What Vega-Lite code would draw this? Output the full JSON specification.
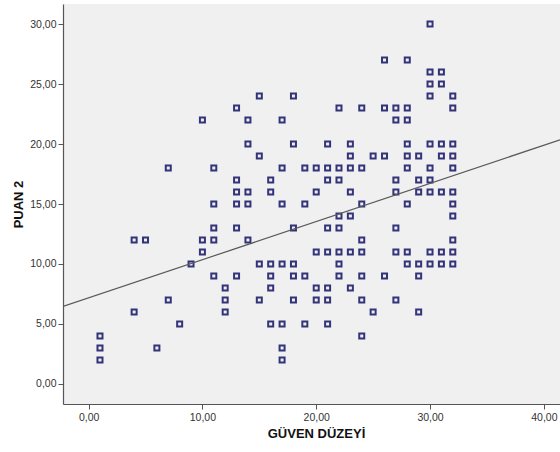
{
  "$schema": "https://vega.github.io/schema/vega-lite/v6.json",
  "width": 497,
  "height": 400,
  "autosize": {"type": "none"},
  "padding": {"left": 63, "top": 4, "right": 0, "bottom": 48},
  "background": "white",
  "config": {
    "view": {"fill": "#f0f0f0", "stroke": null},
    "font": "Liberation Sans",
    "axis": {
      "domainColor": "#555555",
      "domainWidth": 1.2,
      "tickColor": "#555555",
      "tickSize": 5,
      "tickWidth": 1,
      "grid": false,
      "labelFont": "Liberation Sans",
      "labelFontSize": 10.5,
      "labelColor": "#333333",
      "titleFont": "Liberation Sans",
      "titleFontSize": 13,
      "titleFontWeight": "bold",
      "titleColor": "#111111"
    }
  },
  "datasets": {
    "points": [
      {"guven": 30, "puan": 30},
      {"guven": 26, "puan": 27}, {"guven": 28, "puan": 27},
      {"guven": 30, "puan": 26}, {"guven": 31, "puan": 26},
      {"guven": 30, "puan": 25}, {"guven": 31, "puan": 25},
      {"guven": 15, "puan": 24}, {"guven": 18, "puan": 24}, {"guven": 30, "puan": 24}, {"guven": 32, "puan": 24},
      {"guven": 13, "puan": 23}, {"guven": 22, "puan": 23}, {"guven": 24, "puan": 23}, {"guven": 26, "puan": 23}, {"guven": 27, "puan": 23}, {"guven": 28, "puan": 23}, {"guven": 32, "puan": 23},
      {"guven": 10, "puan": 22}, {"guven": 14, "puan": 22}, {"guven": 17, "puan": 22}, {"guven": 27, "puan": 22}, {"guven": 28, "puan": 22},
      {"guven": 14, "puan": 20}, {"guven": 18, "puan": 20}, {"guven": 21, "puan": 20}, {"guven": 23, "puan": 20}, {"guven": 28, "puan": 20}, {"guven": 30, "puan": 20}, {"guven": 31, "puan": 20}, {"guven": 32, "puan": 20},
      {"guven": 15, "puan": 19}, {"guven": 23, "puan": 19}, {"guven": 25, "puan": 19}, {"guven": 26, "puan": 19}, {"guven": 28, "puan": 19}, {"guven": 29, "puan": 19}, {"guven": 31, "puan": 19}, {"guven": 32, "puan": 19},
      {"guven": 7, "puan": 18}, {"guven": 11, "puan": 18}, {"guven": 17, "puan": 18}, {"guven": 19, "puan": 18}, {"guven": 20, "puan": 18}, {"guven": 21, "puan": 18}, {"guven": 22, "puan": 18}, {"guven": 23, "puan": 18}, {"guven": 24, "puan": 18}, {"guven": 28, "puan": 18}, {"guven": 30, "puan": 18}, {"guven": 32, "puan": 18},
      {"guven": 13, "puan": 17}, {"guven": 16, "puan": 17}, {"guven": 21, "puan": 17}, {"guven": 22, "puan": 17}, {"guven": 27, "puan": 17}, {"guven": 29, "puan": 17}, {"guven": 30, "puan": 17},
      {"guven": 13, "puan": 16}, {"guven": 14, "puan": 16}, {"guven": 16, "puan": 16}, {"guven": 20, "puan": 16}, {"guven": 23, "puan": 16}, {"guven": 27, "puan": 16}, {"guven": 29, "puan": 16}, {"guven": 30, "puan": 16}, {"guven": 31, "puan": 16}, {"guven": 32, "puan": 16},
      {"guven": 11, "puan": 15}, {"guven": 13, "puan": 15}, {"guven": 14, "puan": 15}, {"guven": 17, "puan": 15}, {"guven": 19, "puan": 15}, {"guven": 24, "puan": 15}, {"guven": 28, "puan": 15}, {"guven": 32, "puan": 15},
      {"guven": 22, "puan": 14}, {"guven": 23, "puan": 14}, {"guven": 32, "puan": 14},
      {"guven": 11, "puan": 13}, {"guven": 13, "puan": 13}, {"guven": 18, "puan": 13}, {"guven": 21, "puan": 13}, {"guven": 22, "puan": 13}, {"guven": 27, "puan": 13},
      {"guven": 4, "puan": 12}, {"guven": 5, "puan": 12}, {"guven": 10, "puan": 12}, {"guven": 11, "puan": 12}, {"guven": 14, "puan": 12}, {"guven": 24, "puan": 12}, {"guven": 32, "puan": 12},
      {"guven": 10, "puan": 11}, {"guven": 20, "puan": 11}, {"guven": 21, "puan": 11}, {"guven": 22, "puan": 11}, {"guven": 23, "puan": 11}, {"guven": 24, "puan": 11}, {"guven": 27, "puan": 11}, {"guven": 28, "puan": 11}, {"guven": 30, "puan": 11}, {"guven": 31, "puan": 11}, {"guven": 32, "puan": 11},
      {"guven": 9, "puan": 10}, {"guven": 15, "puan": 10}, {"guven": 16, "puan": 10}, {"guven": 17, "puan": 10}, {"guven": 18, "puan": 10}, {"guven": 22, "puan": 10}, {"guven": 28, "puan": 10}, {"guven": 29, "puan": 10}, {"guven": 30, "puan": 10}, {"guven": 31, "puan": 10}, {"guven": 32, "puan": 10},
      {"guven": 11, "puan": 9}, {"guven": 13, "puan": 9}, {"guven": 16, "puan": 9}, {"guven": 18, "puan": 9}, {"guven": 19, "puan": 9}, {"guven": 22, "puan": 9}, {"guven": 24, "puan": 9}, {"guven": 26, "puan": 9}, {"guven": 29, "puan": 9},
      {"guven": 12, "puan": 8}, {"guven": 16, "puan": 8}, {"guven": 20, "puan": 8}, {"guven": 21, "puan": 8}, {"guven": 23, "puan": 8},
      {"guven": 7, "puan": 7}, {"guven": 12, "puan": 7}, {"guven": 15, "puan": 7}, {"guven": 18, "puan": 7}, {"guven": 20, "puan": 7}, {"guven": 21, "puan": 7}, {"guven": 24, "puan": 7}, {"guven": 27, "puan": 7},
      {"guven": 4, "puan": 6}, {"guven": 12, "puan": 6}, {"guven": 25, "puan": 6}, {"guven": 29, "puan": 6},
      {"guven": 8, "puan": 5}, {"guven": 16, "puan": 5}, {"guven": 17, "puan": 5}, {"guven": 19, "puan": 5}, {"guven": 21, "puan": 5},
      {"guven": 1, "puan": 4}, {"guven": 24, "puan": 4},
      {"guven": 1, "puan": 3}, {"guven": 6, "puan": 3}, {"guven": 17, "puan": 3},
      {"guven": 1, "puan": 2}, {"guven": 17, "puan": 2}
    ],
    "fit": [
      {"guven": -2.25, "puan": 6.46},
      {"guven": 41.42, "puan": 20.35}
    ]
  },
  "layer": [
    {
      "data": {"name": "points"},
      "mark": {"type": "point", "shape": "square", "size": 25, "filled": false, "stroke": "#33337a", "strokeWidth": 2, "opacity": 1},
      "encoding": {
        "x": {
          "field": "guven", "type": "quantitative",
          "scale": {"domain": [-2.25, 41.42], "nice": false, "zero": false},
          "axis": {
            "values": [0, 10, 20, 30, 40],
            "labelExpr": "replace(format(datum.value, '.2f'), '.', ',')",
            "labelPadding": 3,
            "title": "GÜVEN DÜZEYİ",
            "titleX": 253,
            "titleY": 33,
            "titleBaseline": "alphabetic",
            "titleAlign": "center"
          }
        },
        "y": {
          "field": "puan", "type": "quantitative",
          "scale": {"domain": [-1.67, 31.67], "nice": false, "zero": false},
          "axis": {
            "values": [0, 5, 10, 15, 20, 25, 30],
            "labelExpr": "replace(format(datum.value, '.2f'), '.', ',')",
            "labelPadding": 2,
            "title": "PUAN 2",
            "titleX": -38,
            "titleY": 200,
            "titleBaseline": "bottom",
            "titleAngle": -90,
            "titleAlign": "center"
          }
        }
      }
    },
    {
      "data": {"name": "fit"},
      "mark": {"type": "line", "color": "#5a5a5a", "strokeWidth": 1.2, "clip": true},
      "encoding": {
        "x": {"field": "guven", "type": "quantitative"},
        "y": {"field": "puan", "type": "quantitative"}
      }
    },
    {
      "mark": {"type": "rule", "color": "#555555", "strokeWidth": 1.2},
      "encoding": {"y": {"datum": 31.67, "type": "quantitative"}}
    },
    {
      "mark": {"type": "text", "text": "R² Linear = 0,169", "align": "left", "baseline": "alphabetic", "fontSize": 10, "color": "#333333", "font": "Liberation Sans"},
      "encoding": {
        "x": {"datum": 33.1, "type": "quantitative"},
        "y": {"datum": 2.52, "type": "quantitative"}
      }
    }
  ]
}
